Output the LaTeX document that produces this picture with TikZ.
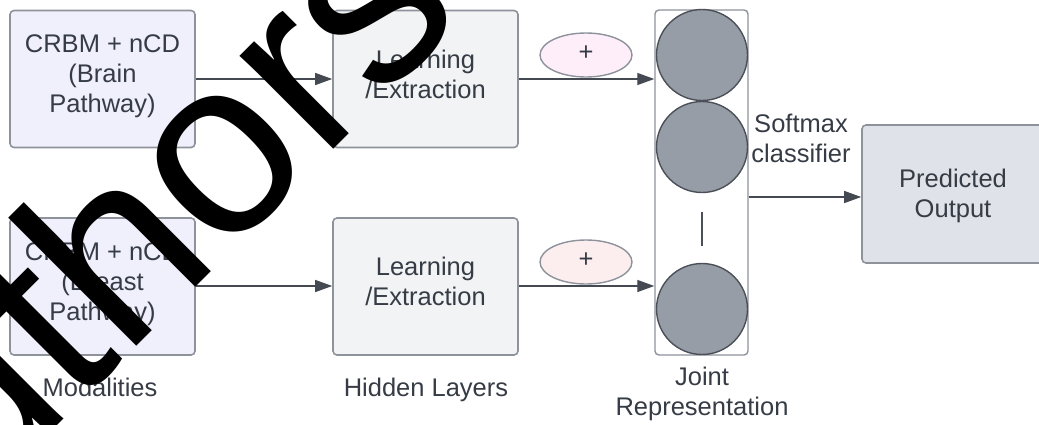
\documentclass[tikz,border=0pt]{standalone}
\usepackage{fontspec}
\setmainfont{Liberation Sans}
\usetikzlibrary{arrows.meta,shapes.geometric}

\definecolor{ink}{HTML}{363C45}
\definecolor{edge}{HTML}{8D929B}
\definecolor{wire}{HTML}{454A52}
\definecolor{modfill}{HTML}{F0F0FC}
\definecolor{hidfill}{HTML}{F2F3F5}
\definecolor{outfill}{HTML}{DFE2E8}
\definecolor{unitfill}{HTML}{979DA6}
\definecolor{unitedge}{HTML}{4B5058}
\definecolor{sumtop}{HTML}{FDEEF9}
\definecolor{sumbot}{HTML}{FCEEEE}

\tikzset{
  txt/.style={font=\fontsize{25.5}{30}\selectfont, text=ink, align=center, inner sep=0pt},
  card/.style={draw=edge, line width=1.6pt, rounded corners=4pt, minimum width=185pt, minimum height=137pt, inner sep=0pt},
  unit/.style={circle, draw=unitedge, fill=unitfill, line width=1.4pt, minimum size=91pt, inner sep=0pt},
  sum/.style={ellipse, draw=edge, line width=1.4pt, minimum width=92pt, minimum height=44pt, inner sep=0pt},
  flow/.style={draw=wire, line width=1.3pt, -{Triangle[length=17pt,width=12pt]}},
}

\begin{document}
\begin{tikzpicture}[x=1pt,y=-1pt]
\useasboundingbox (0,0) rectangle (1039,424);
\begin{scope}
\clip (0,0) rectangle (1039,424);

% input modalities
\node[card, fill=modfill] (brain)  at (102.5,79)  {};
\node[card, fill=modfill] (breast) at (102.5,286.5) {};
\node[txt] (braintxt)  at (102.5,76.4)  {CRBM + nCD\\(Brain\\Pathway)};
\node[txt] (breasttxt) at (102.5,283.9) {CRBM + nCD\\(Breast\\Pathway)};

% hidden layers
\node[card, fill=hidfill] (hidA) at (425.5,79)  {};
\node[card, fill=hidfill] (hidB) at (425.5,286.5) {};
\node[txt] (hidAtxt) at (425.5,74)   {Learning\\/Extraction};
\node[txt] (hidBtxt) at (425.5,281.5) {Learning\\/Extraction};

% joint representation column
\node[draw=edge, line width=1.4pt, rounded corners=4pt, fill=white,
      minimum width=93pt, minimum height=345pt, inner sep=0pt] (joint) at (701.5,182.5) {};
\node[unit] (u1) at (702,55)  {};
\node[unit] (u2) at (702,147) {};
\node[unit] (u3) at (702,309) {};
\coordinate (gapA) at (702,212);
\coordinate (gapB) at (702,246);
\draw[draw=unitedge, line width=1.2pt] (gapA) -- (gapB);

% fusion markers
\node[sum, fill=sumtop] (sumA) at (586,55)  {};
\node[sum, fill=sumbot] (sumB) at (586,262) {};
\node[txt] (plusA) at (586,53)  {+};
\node[txt] (plusB) at (586,260) {+};

% output
\node[draw=edge, line width=1.6pt, rounded corners=4pt, fill=outfill,
      minimum width=185pt, minimum height=138pt, inner sep=0pt] (out) at (954.5,194) {};
\node[txt] (outtxt) at (953,196.4) {Predicted\\Output};

% captions
\node[txt, anchor=base] (capmod) at (100,396) {Modalities};
\node[txt, anchor=base] (caphid) at (426,396) {Hidden Layers};
\node[txt] (capjoint) at (702,393.5) {Joint\\Representation};
\node[txt] (capsoft) at (801,138.7) {Softmax\\classifier};

% connectors
\draw[flow] (brain.east |- 0,79)  -- (hidA.west |- 0,79);
\draw[flow] (breast.east |- 0,286) -- (hidB.west |- 0,286);
\draw[flow] (hidA.east |- 0,79)  -- (joint.west |- 0,79);
\draw[flow] (hidB.east |- 0,286) -- (joint.west |- 0,286);
\draw[flow] (joint.east |- 0,197) -- (out.west |- 0,197);

% overprinted lettering
\node[font=\fontsize{250}{250}\selectfont, text=black, inner sep=0pt,
      rotate=45, anchor=base west] (mark) at (-141,624) {Authors};
\end{scope}
\end{tikzpicture}
\end{document}
